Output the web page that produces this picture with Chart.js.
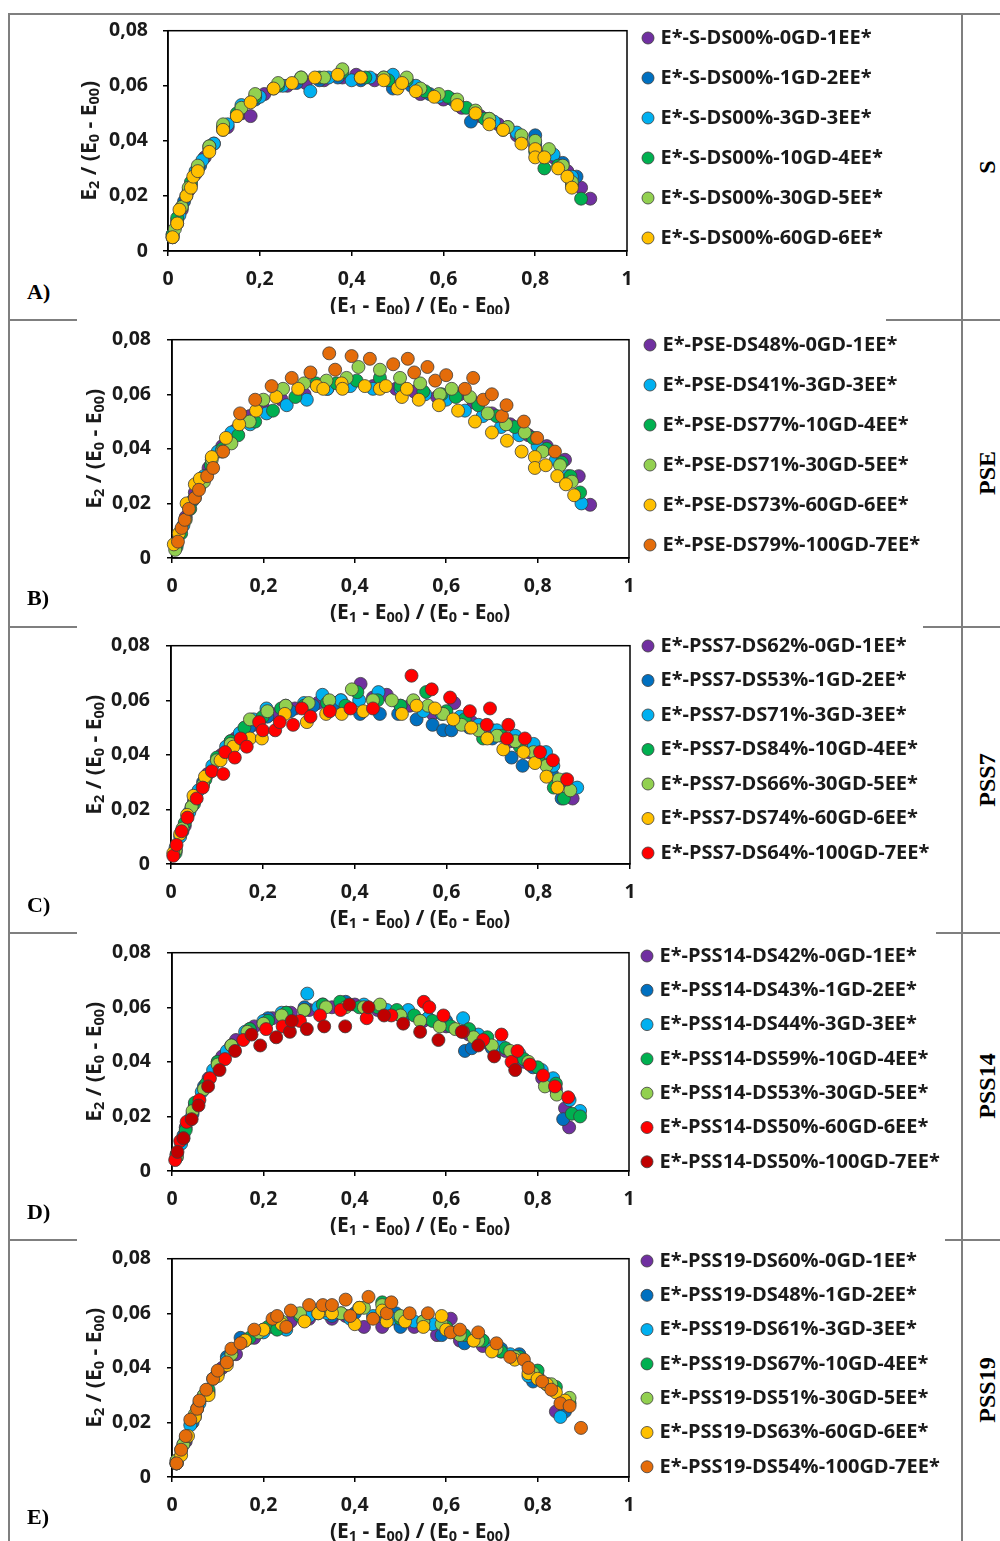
<!DOCTYPE html>
<html>
<head>
<meta charset="utf-8">
<script src="https://cdn.jsdelivr.net/npm/chart.js@4.4.1/dist/chart.umd.min.js"></script>
<style>
  body { margin: 0; background: #fff; }
  #page { position: relative; width: 1000px; height: 1541px; overflow: hidden; background: #fff; }
  .ln { position: absolute; background: #7f7f7f; }
  canvas { position: absolute; }
  .tag { position: absolute; font: bold 22px "Liberation Serif"; color: #000; transform: translateY(-50%); }
  .rowlbl { position: absolute; font: bold 24px "Liberation Serif"; color: #000; white-space: nowrap;
            transform: translate(-50%, -50%) rotate(-90deg); }
</style>
</head>
<body>
<div id="page"></div>
<script>
// colours (Excel palette)
const PURPLE = "#7030A0", DBLUE = "#0070C0", LBLUE = "#00B0F0", GREEN = "#00B050",
      LGREEN = "#92D050", GOLD = "#FFC000", ORANGE = "#E46C0A", RED = "#FF0000", DRED = "#C00000";

// axis ticks
const xTicks = [0, 0.2, 0.4, 0.6, 0.8, 1];
const yTicks = [0, 0.02, 0.04, 0.06, 0.08];

// ---------- A) S ----------
const labelsA = ["E*-S-DS00%-0GD-1EE*", "E*-S-DS00%-1GD-2EE*", "E*-S-DS00%-3GD-3EE*",
  "E*-S-DS00%-10GD-4EE*", "E*-S-DS00%-30GD-5EE*", "E*-S-DS00%-60GD-6EE*"];
const colorsA = [PURPLE, DBLUE, LBLUE, GREEN, LGREEN, GOLD];
const pointsA = [
  [[0.01,0.005],[0.02,0.01],[0.03,0.015],[0.045,0.022],[0.06,0.028],[0.08,0.034],[0.1,0.039],[0.13,0.045],[0.16,0.05],[0.18,0.049],[0.21,0.057],[0.26,0.06],[0.3,0.061],[0.34,0.062],[0.38,0.063],[0.41,0.064],[0.45,0.062],[0.5,0.06],[0.55,0.057],[0.6,0.055],[0.64,0.052],[0.68,0.049],[0.72,0.046],[0.76,0.042],[0.8,0.038],[0.84,0.034],[0.87,0.029],[0.9,0.023],[0.92,0.019]],
  [[0.01,0.006],[0.02,0.011],[0.035,0.018],[0.05,0.024],[0.07,0.031],[0.09,0.037],[0.12,0.044],[0.15,0.049],[0.19,0.055],[0.23,0.059],[0.28,0.061],[0.33,0.062],[0.37,0.063],[0.42,0.062],[0.47,0.063],[0.49,0.059],[0.53,0.06],[0.57,0.057],[0.62,0.055],[0.66,0.047],[0.7,0.048],[0.74,0.045],[0.8,0.042],[0.83,0.036],[0.86,0.032],[0.89,0.027]],
  [[0.01,0.005],[0.025,0.013],[0.04,0.02],[0.06,0.029],[0.075,0.033],[0.1,0.039],[0.13,0.046],[0.16,0.053],[0.2,0.056],[0.25,0.06],[0.31,0.058],[0.35,0.063],[0.4,0.062],[0.44,0.063],[0.49,0.064],[0.54,0.06],[0.59,0.056],[0.63,0.054],[0.67,0.05],[0.71,0.047],[0.76,0.043],[0.8,0.039],[0.84,0.035],[0.88,0.027]],
  [[0.01,0.006],[0.02,0.012],[0.03,0.016],[0.05,0.025],[0.065,0.03],[0.09,0.038],[0.12,0.045],[0.15,0.05],[0.19,0.056],[0.24,0.06],[0.29,0.063],[0.33,0.063],[0.38,0.065],[0.43,0.063],[0.48,0.062],[0.52,0.062],[0.56,0.058],[0.61,0.056],[0.65,0.052],[0.69,0.048],[0.73,0.044],[0.77,0.041],[0.8,0.036],[0.82,0.03],[0.85,0.031],[0.88,0.024],[0.9,0.019]],
  [[0.015,0.008],[0.03,0.016],[0.045,0.023],[0.065,0.031],[0.09,0.038],[0.12,0.046],[0.16,0.052],[0.19,0.057],[0.24,0.061],[0.29,0.063],[0.34,0.063],[0.38,0.066],[0.42,0.063],[0.47,0.063],[0.52,0.063],[0.55,0.059],[0.59,0.057],[0.63,0.055],[0.67,0.051],[0.7,0.048],[0.74,0.045],[0.77,0.042],[0.8,0.04],[0.83,0.037],[0.86,0.031],[0.88,0.025]],
  [[0.01,0.005],[0.02,0.01],[0.025,0.015],[0.04,0.02],[0.05,0.023],[0.055,0.027],[0.065,0.029],[0.09,0.036],[0.12,0.044],[0.15,0.049],[0.18,0.054],[0.23,0.059],[0.27,0.061],[0.32,0.063],[0.37,0.064],[0.42,0.063],[0.47,0.062],[0.5,0.059],[0.51,0.061],[0.54,0.058],[0.58,0.056],[0.63,0.053],[0.67,0.05],[0.7,0.046],[0.73,0.044],[0.77,0.039],[0.8,0.037],[0.8,0.034],[0.82,0.034],[0.85,0.03],[0.87,0.027],[0.88,0.023]]
];

// ---------- B) PSE ----------
const labelsB = ["E*-PSE-DS48%-0GD-1EE*", "E*-PSE-DS41%-3GD-3EE*", "E*-PSE-DS77%-10GD-4EE*",
  "E*-PSE-DS71%-30GD-5EE*", "E*-PSE-DS73%-60GD-6EE*", "E*-PSE-DS79%-100GD-7EE*"];
const colorsB = [PURPLE, LBLUE, GREEN, LGREEN, GOLD, ORANGE];
const pointsB = [
  [[0.01,0.005],[0.03,0.015],[0.05,0.024],[0.08,0.033],[0.11,0.041],[0.14,0.047],[0.17,0.052],[0.2,0.055],[0.24,0.058],[0.29,0.06],[0.34,0.062],[0.38,0.063],[0.44,0.063],[0.49,0.062],[0.53,0.061],[0.58,0.059],[0.63,0.06],[0.66,0.057],[0.7,0.053],[0.74,0.049],[0.78,0.045],[0.82,0.041],[0.86,0.036],[0.89,0.03],[0.915,0.0195]],
  [[0.01,0.005],[0.025,0.012],[0.045,0.021],[0.07,0.03],[0.1,0.039],[0.13,0.046],[0.171,0.049],[0.207,0.053],[0.251,0.056],[0.295,0.058],[0.34,0.062],[0.39,0.063],[0.44,0.062],[0.5,0.062],[0.554,0.06],[0.6,0.058],[0.641,0.054],[0.68,0.052],[0.72,0.048],[0.76,0.045],[0.8,0.041],[0.84,0.036],[0.866,0.03],[0.886,0.023],[0.896,0.02]],
  [[0.01,0.004],[0.02,0.009],[0.04,0.018],[0.06,0.026],[0.085,0.034],[0.11,0.04],[0.145,0.045],[0.182,0.05],[0.221,0.054],[0.27,0.059],[0.315,0.064],[0.36,0.064],[0.404,0.065],[0.455,0.066],[0.5,0.063],[0.55,0.061],[0.59,0.06],[0.621,0.059],[0.67,0.056],[0.71,0.052],[0.75,0.048],[0.79,0.044],[0.82,0.04],[0.853,0.035],[0.872,0.03],[0.893,0.024]],
  [[0.007,0.003],[0.03,0.014],[0.05,0.022],[0.07,0.028],[0.087,0.036],[0.109,0.039],[0.13,0.042],[0.17,0.05],[0.2,0.058],[0.243,0.062],[0.289,0.064],[0.338,0.065],[0.382,0.066],[0.408,0.07],[0.455,0.069],[0.499,0.066],[0.543,0.064],[0.586,0.06],[0.612,0.062],[0.652,0.059],[0.691,0.053],[0.731,0.049],[0.772,0.046],[0.811,0.039],[0.849,0.034],[0.875,0.028]],
  [[0.004,0.005],[0.015,0.009],[0.032,0.02],[0.05,0.027],[0.061,0.029],[0.087,0.037],[0.118,0.044],[0.147,0.049],[0.184,0.054],[0.228,0.059],[0.276,0.062],[0.317,0.063],[0.331,0.062],[0.371,0.064],[0.373,0.062],[0.422,0.063],[0.455,0.062],[0.468,0.063],[0.503,0.059],[0.514,0.062],[0.54,0.058],[0.584,0.056],[0.626,0.054],[0.663,0.05],[0.7,0.046],[0.733,0.043],[0.765,0.039],[0.794,0.037],[0.794,0.033],[0.818,0.034],[0.843,0.03],[0.862,0.027],[0.88,0.023]],
  [[0.013,0.006],[0.021,0.011],[0.028,0.014],[0.037,0.018],[0.05,0.022],[0.059,0.025],[0.077,0.03],[0.09,0.033],[0.112,0.039],[0.149,0.053],[0.182,0.058],[0.218,0.063],[0.262,0.066],[0.303,0.068],[0.344,0.075],[0.357,0.069],[0.393,0.074],[0.433,0.073],[0.484,0.071],[0.516,0.073],[0.53,0.068],[0.559,0.07],[0.576,0.065],[0.6,0.067],[0.641,0.062],[0.659,0.066],[0.681,0.058],[0.7,0.06],[0.722,0.052],[0.732,0.056],[0.77,0.05],[0.799,0.044],[0.838,0.039]]
];

// ---------- C) PSS7 ----------
const labelsC = ["E*-PSS7-DS62%-0GD-1EE*", "E*-PSS7-DS53%-1GD-2EE*", "E*-PSS7-DS71%-3GD-3EE*",
  "E*-PSS7-DS84%-10GD-4EE*", "E*-PSS7-DS66%-30GD-5EE*", "E*-PSS7-DS74%-60GD-6EE*", "E*-PSS7-DS64%-100GD-7EE*"];
const colorsC = [PURPLE, DBLUE, LBLUE, GREEN, LGREEN, GOLD, RED];
const pointsC = [
  [[0.01,0.005],[0.03,0.014],[0.05,0.023],[0.08,0.033],[0.11,0.04],[0.14,0.046],[0.18,0.051],[0.22,0.055],[0.27,0.057],[0.32,0.059],[0.37,0.06],[0.413,0.066],[0.44,0.061],[0.47,0.062],[0.52,0.058],[0.57,0.055],[0.617,0.059],[0.655,0.052],[0.7,0.049],[0.74,0.045],[0.78,0.041],[0.82,0.036],[0.85,0.03],[0.875,0.024]],
  [[0.01,0.005],[0.025,0.012],[0.045,0.021],[0.07,0.03],[0.1,0.038],[0.13,0.045],[0.17,0.05],[0.21,0.054],[0.26,0.056],[0.31,0.058],[0.36,0.059],[0.412,0.055],[0.455,0.055],[0.495,0.055],[0.535,0.053],[0.57,0.051],[0.593,0.049],[0.611,0.049],[0.65,0.05],[0.7,0.046],[0.742,0.039],[0.766,0.036],[0.8,0.04],[0.83,0.033],[0.851,0.024]],
  [[0.01,0.006],[0.02,0.01],[0.04,0.019],[0.06,0.027],[0.09,0.036],[0.12,0.043],[0.15,0.048],[0.18,0.053],[0.208,0.057],[0.25,0.058],[0.29,0.059],[0.33,0.062],[0.37,0.06],[0.41,0.06],[0.452,0.063],[0.5,0.058],[0.55,0.056],[0.59,0.055],[0.63,0.054],[0.67,0.051],[0.71,0.049],[0.75,0.047],[0.79,0.044],[0.817,0.041],[0.833,0.036],[0.86,0.031],[0.885,0.028]],
  [[0.01,0.004],[0.03,0.015],[0.05,0.022],[0.075,0.031],[0.1,0.039],[0.13,0.045],[0.16,0.05],[0.2,0.054],[0.24,0.057],[0.29,0.058],[0.34,0.059],[0.38,0.058],[0.406,0.063],[0.45,0.06],[0.5,0.058],[0.556,0.063],[0.6,0.056],[0.64,0.053],[0.68,0.046],[0.72,0.047],[0.76,0.043],[0.8,0.039],[0.834,0.028],[0.856,0.024]],
  [[0.01,0.005],[0.025,0.013],[0.045,0.021],[0.07,0.029],[0.1,0.038],[0.13,0.044],[0.172,0.053],[0.21,0.056],[0.25,0.058],[0.3,0.059],[0.345,0.06],[0.394,0.064],[0.44,0.06],[0.481,0.06],[0.528,0.06],[0.56,0.058],[0.593,0.055],[0.633,0.051],[0.67,0.049],[0.71,0.047],[0.75,0.045],[0.79,0.041],[0.818,0.036],[0.845,0.031],[0.87,0.027]],
  [[0.005,0.004],[0.02,0.011],[0.035,0.018],[0.049,0.025],[0.074,0.032],[0.108,0.038],[0.136,0.043],[0.172,0.046],[0.198,0.046],[0.248,0.055],[0.296,0.052],[0.338,0.055],[0.372,0.055],[0.419,0.056],[0.503,0.055],[0.535,0.058],[0.575,0.057],[0.615,0.053],[0.654,0.05],[0.689,0.046],[0.724,0.042],[0.768,0.041],[0.793,0.037],[0.818,0.032],[0.842,0.028]],
  [[0.005,0.003],[0.012,0.007],[0.023,0.012],[0.036,0.017],[0.056,0.024],[0.069,0.028],[0.089,0.034],[0.114,0.033],[0.118,0.041],[0.139,0.039],[0.152,0.046],[0.165,0.043],[0.192,0.052],[0.2,0.049],[0.227,0.049],[0.237,0.052],[0.266,0.051],[0.285,0.057],[0.304,0.054],[0.346,0.056],[0.391,0.057],[0.44,0.057],[0.524,0.069],[0.568,0.064],[0.608,0.061],[0.651,0.056],[0.688,0.051],[0.695,0.057],[0.732,0.046],[0.735,0.051],[0.771,0.046],[0.804,0.041],[0.832,0.038],[0.863,0.031]]
];

// ---------- D) PSS14 ----------
const labelsD = ["E*-PSS14-DS42%-0GD-1EE*", "E*-PSS14-DS43%-1GD-2EE*", "E*-PSS14-DS44%-3GD-3EE*",
  "E*-PSS14-DS59%-10GD-4EE*", "E*-PSS14-DS53%-30GD-5EE*", "E*-PSS14-DS50%-60GD-6EE*", "E*-PSS14-DS50%-100GD-7EE*"];
const colorsD = [PURPLE, DBLUE, LBLUE, GREEN, LGREEN, RED, DRED];
const pointsD = [
  [[0.01,0.005],[0.03,0.016],[0.05,0.024],[0.08,0.034],[0.11,0.042],[0.14,0.048],[0.18,0.053],[0.22,0.056],[0.26,0.058],[0.3,0.059],[0.35,0.06],[0.4,0.061],[0.45,0.059],[0.5,0.057],[0.55,0.055],[0.6,0.053],[0.65,0.05],[0.69,0.047],[0.73,0.044],[0.77,0.04],[0.81,0.034],[0.84,0.03],[0.86,0.023],[0.869,0.016]],
  [[0.01,0.006],[0.025,0.013],[0.045,0.021],[0.07,0.031],[0.1,0.04],[0.13,0.046],[0.17,0.052],[0.21,0.056],[0.25,0.058],[0.29,0.06],[0.33,0.061],[0.38,0.062],[0.42,0.06],[0.47,0.058],[0.51,0.057],[0.56,0.056],[0.6,0.055],[0.641,0.044],[0.656,0.045],[0.7,0.045],[0.75,0.042],[0.79,0.038],[0.83,0.032],[0.856,0.019]],
  [[0.01,0.005],[0.02,0.01],[0.04,0.019],[0.065,0.029],[0.09,0.037],[0.12,0.044],[0.16,0.051],[0.2,0.055],[0.24,0.058],[0.296,0.065],[0.32,0.06],[0.37,0.061],[0.42,0.061],[0.47,0.059],[0.517,0.059],[0.56,0.056],[0.6,0.054],[0.637,0.056],[0.67,0.05],[0.72,0.046],[0.76,0.043],[0.809,0.037],[0.834,0.034],[0.87,0.026],[0.893,0.022]],
  [[0.01,0.006],[0.03,0.015],[0.05,0.025],[0.075,0.032],[0.1,0.04],[0.13,0.046],[0.17,0.052],[0.21,0.055],[0.25,0.058],[0.29,0.059],[0.33,0.061],[0.368,0.062],[0.41,0.06],[0.45,0.06],[0.492,0.059],[0.53,0.057],[0.57,0.055],[0.61,0.053],[0.65,0.052],[0.69,0.049],[0.73,0.045],[0.77,0.041],[0.8,0.038],[0.84,0.032],[0.875,0.021],[0.893,0.02]],
  [[0.01,0.005],[0.025,0.012],[0.045,0.022],[0.07,0.03],[0.1,0.039],[0.13,0.046],[0.165,0.051],[0.2,0.054],[0.24,0.057],[0.289,0.059],[0.337,0.06],[0.38,0.06],[0.42,0.06],[0.455,0.061],[0.5,0.057],[0.543,0.055],[0.586,0.053],[0.62,0.052],[0.66,0.049],[0.7,0.046],[0.74,0.044],[0.78,0.04],[0.816,0.031],[0.842,0.028]],
  [[0.007,0.004],[0.018,0.011],[0.032,0.018],[0.06,0.026],[0.083,0.034],[0.116,0.041],[0.156,0.048],[0.206,0.052],[0.242,0.053],[0.28,0.055],[0.324,0.057],[0.369,0.059],[0.426,0.056],[0.48,0.057],[0.551,0.062],[0.563,0.06],[0.594,0.057],[0.637,0.051],[0.681,0.048],[0.721,0.05],[0.743,0.04],[0.756,0.044],[0.783,0.039],[0.812,0.035],[0.838,0.031],[0.867,0.027]],
  [[0.012,0.007],[0.025,0.012],[0.043,0.019],[0.058,0.024],[0.079,0.031],[0.104,0.037],[0.138,0.044],[0.174,0.05],[0.193,0.046],[0.228,0.049],[0.258,0.051],[0.262,0.055],[0.295,0.052],[0.333,0.053],[0.379,0.053],[0.388,0.061],[0.43,0.06],[0.464,0.057],[0.506,0.054],[0.543,0.051],[0.583,0.048],[0.634,0.051],[0.67,0.046],[0.705,0.042],[0.751,0.037]]
];

// ---------- E) PSS19 ----------
const labelsE = ["E*-PSS19-DS60%-0GD-1EE*", "E*-PSS19-DS48%-1GD-2EE*", "E*-PSS19-DS61%-3GD-3EE*",
  "E*-PSS19-DS67%-10GD-4EE*", "E*-PSS19-DS51%-30GD-5EE*", "E*-PSS19-DS63%-60GD-6EE*", "E*-PSS19-DS54%-100GD-7EE*"];
const colorsE = [PURPLE, DBLUE, LBLUE, GREEN, LGREEN, GOLD, ORANGE];
const pointsE = [
  [[0.01,0.005],[0.03,0.013],[0.05,0.022],[0.08,0.031],[0.11,0.04],[0.14,0.045],[0.18,0.051],[0.22,0.055],[0.26,0.057],[0.3,0.058],[0.35,0.058],[0.38,0.059],[0.42,0.055],[0.46,0.055],[0.5,0.056],[0.53,0.055],[0.58,0.052],[0.61,0.058],[0.63,0.05],[0.68,0.048],[0.72,0.046],[0.76,0.044],[0.8,0.037],[0.84,0.024],[0.86,0.027]],
  [[0.01,0.006],[0.025,0.012],[0.045,0.02],[0.07,0.03],[0.1,0.038],[0.12,0.044],[0.15,0.051],[0.2,0.054],[0.24,0.056],[0.29,0.058],[0.35,0.059],[0.4,0.06],[0.45,0.059],[0.49,0.06],[0.5,0.055],[0.55,0.057],[0.59,0.052],[0.64,0.049],[0.68,0.05],[0.72,0.047],[0.76,0.045],[0.79,0.035],[0.82,0.034],[0.86,0.024]],
  [[0.01,0.005],[0.02,0.01],[0.04,0.019],[0.06,0.027],[0.09,0.036],[0.12,0.043],[0.16,0.05],[0.2,0.053],[0.25,0.054],[0.3,0.059],[0.34,0.06],[0.39,0.058],[0.44,0.059],[0.48,0.058],[0.53,0.057],[0.57,0.056],[0.62,0.053],[0.66,0.05],[0.7,0.047],[0.74,0.045],[0.78,0.037],[0.82,0.034],[0.85,0.022]],
  [[0.01,0.005],[0.03,0.014],[0.055,0.025],[0.08,0.032],[0.1,0.038],[0.13,0.045],[0.17,0.051],[0.21,0.055],[0.23,0.054],[0.28,0.059],[0.32,0.06],[0.37,0.06],[0.41,0.062],[0.46,0.064],[0.5,0.058],[0.55,0.057],[0.6,0.055],[0.64,0.052],[0.68,0.05],[0.72,0.046],[0.76,0.044],[0.8,0.039],[0.84,0.033],[0.87,0.027]],
  [[0.01,0.006],[0.025,0.012],[0.05,0.023],[0.07,0.03],[0.1,0.038],[0.13,0.045],[0.16,0.05],[0.19,0.053],[0.24,0.057],[0.28,0.06],[0.33,0.061],[0.37,0.06],[0.42,0.062],[0.46,0.063],[0.5,0.059],[0.55,0.057],[0.59,0.056],[0.63,0.052],[0.67,0.05],[0.71,0.047],[0.75,0.044],[0.79,0.038],[0.83,0.034],[0.87,0.029]],
  [[0.01,0.005],[0.02,0.008],[0.035,0.015],[0.05,0.022],[0.08,0.03],[0.1,0.037],[0.12,0.041],[0.16,0.05],[0.2,0.054],[0.24,0.056],[0.29,0.057],[0.32,0.06],[0.35,0.06],[0.4,0.056],[0.41,0.062],[0.46,0.061],[0.47,0.057],[0.51,0.057],[0.55,0.055],[0.59,0.059],[0.6,0.054],[0.66,0.05],[0.7,0.046],[0.75,0.043],[0.78,0.038],[0.8,0.036],[0.82,0.034],[0.84,0.031],[0.86,0.028]],
  [[0.01,0.005],[0.02,0.01],[0.03,0.015],[0.04,0.021],[0.055,0.025],[0.06,0.028],[0.075,0.032],[0.09,0.036],[0.1,0.039],[0.12,0.042],[0.13,0.047],[0.15,0.049],[0.18,0.054],[0.22,0.058],[0.23,0.059],[0.25,0.055],[0.26,0.061],[0.3,0.063],[0.33,0.063],[0.35,0.063],[0.38,0.065],[0.39,0.059],[0.43,0.066],[0.44,0.058],[0.47,0.06],[0.48,0.064],[0.52,0.06],[0.56,0.06],[0.61,0.053],[0.63,0.054],[0.67,0.053],[0.71,0.049],[0.74,0.044],[0.77,0.043],[0.78,0.04],[0.81,0.035],[0.83,0.032],[0.85,0.027],[0.87,0.026],[0.895,0.018]]
];

// axis titles, [text, subscript?]
const xTitle = [["(E", 0], ["1", 1], [" - E", 0], ["00", 1], [") / (E", 0], ["0", 1], [" - E", 0], ["00", 1], [")", 0]];
const yTitle = [["E", 0], ["2", 1], [" / (E", 0], ["0", 1], [" - E", 0], ["00", 1], [")", 0]];

const FONT = "Open Sans";
const MAIN_FONT = "bold 21px 'Open Sans'";
const SUB_FONT = "bold 14.5px 'Open Sans'";

// page layout of each panel (page pixels)
const CANVAS_LEFT = 60, CANVAS_W = 895, CANVAS_H = 310;
const panels = [
  { tag: "A)", row: "S",     rowMid: 167,  tagY: 292,  plot: [168, 627, 24, 251],   legendY: 38,   step: 40,   markerX: 648, yTitleX: 90, labels: labelsA, colors: colorsA, points: pointsA },
  { tag: "B)", row: "PSE",   rowMid: 473,  tagY: 598,  plot: [172, 629, 332, 558],  legendY: 345,  step: 40,   markerX: 650, yTitleX: 95, labels: labelsB, colors: colorsB, points: pointsB },
  { tag: "C)", row: "PSS7",  rowMid: 780,  tagY: 905,  plot: [171, 630, 638, 864],  legendY: 646,  step: 34.5, markerX: 648, yTitleX: 95, labels: labelsC, colors: colorsC, points: pointsC },
  { tag: "D)", row: "PSS14", rowMid: 1086, tagY: 1212, plot: [172, 629, 945, 1171], legendY: 956,  step: 34.3, markerX: 647, yTitleX: 95, labels: labelsD, colors: colorsD, points: pointsD },
  { tag: "E)", row: "PSS19", rowMid: 1390, tagY: 1517, plot: [172, 629, 1251, 1477],legendY: 1261, step: 34.3, markerX: 647, yTitleX: 95, labels: labelsE, colors: colorsE, points: pointsE }
];

const page = document.getElementById("page");

// table lines
function line(x, y, w, h) {
  const d = document.createElement("div");
  d.className = "ln";
  Object.assign(d.style, { left: x + "px", top: y + "px", width: w + "px", height: h + "px" });
  page.appendChild(d);
}
line(8, 13, 992, 2);
line(8, 13, 2, 1528);
line(961, 13, 2, 1528);
[[319, 886], [626, 923], [932, 936], [1239, 945]].forEach(([y, xr]) => {
  line(8, y, 69, 2);
  line(xr, y, 1000 - xr, 2);
});

function drawRich(ctx, parts, cx, cy, rot) {
  ctx.save();
  ctx.translate(cx, cy);
  ctx.rotate(rot);
  ctx.fillStyle = "#1a1a1a";
  ctx.textBaseline = "middle";
  ctx.textAlign = "left";
  let w = 0;
  parts.forEach(([t, sub]) => { ctx.font = sub ? SUB_FONT : MAIN_FONT; w += ctx.measureText(t).width; });
  let x = -w / 2;
  parts.forEach(([t, sub]) => {
    ctx.font = sub ? SUB_FONT : MAIN_FONT;
    ctx.fillText(t, x, sub ? 5 : 0);
    x += ctx.measureText(t).width;
  });
  ctx.restore();
}

// black frame round the plot + axis titles with subscripts
const framePlugin = {
  id: "frame",
  beforeDatasetsDraw(chart) {
    const { ctx, chartArea: a } = chart;
    ctx.save();
    ctx.strokeStyle = "#000";
    ctx.lineWidth = 1.5;
    ctx.strokeRect(a.left, a.top, a.right - a.left, a.bottom - a.top);
    ctx.restore();
  },
  afterDraw(chart, args, opts) {
    const { ctx, chartArea: a } = chart;
    drawRich(ctx, xTitle, opts.xTitleX, a.bottom + 55, 0);
    drawRich(ctx, yTitle, opts.yTitleX, (a.top + a.bottom) / 2, -Math.PI / 2);
  }
};

// keep legend out of the layout, then put it where the figure has it
const legendPlace = {
  id: "legendPlace",
  beforeLayout(chart) {
    const lg = chart.legend;
    if (lg && !lg._fixed) {
      const fit = lg.fit;
      lg.fit = function () { fit.call(this); this.width = 0; };
      lg._fixed = true;
    }
  },
  afterLayout(chart, args, opts) {
    const lg = chart.legend;
    lg.left = opts.left; lg.width = 340; lg.right = lg.left + 340;
    lg.top = opts.top; lg.bottom = chart.height; lg.height = lg.bottom - lg.top;
  }
};

const fmt = (v) => (v === 0 ? "0" : Number.isInteger(v) ? String(v) : v.toFixed(v < 0.1 ? 2 : 1).replace(".", ","));

function makePanel(p) {
  const [L, R, T, B] = p.plot;
  const top = T - 20;
  const canvas = document.createElement("canvas");
  canvas.width = CANVAS_W; canvas.height = CANVAS_H;
  canvas.style.left = CANVAS_LEFT + "px"; canvas.style.top = top + "px";
  page.appendChild(canvas);

  const tag = document.createElement("div");
  tag.className = "tag"; tag.textContent = p.tag;
  tag.style.left = "27px"; tag.style.top = p.tagY + "px";
  page.appendChild(tag);

  const rl = document.createElement("div");
  rl.className = "rowlbl"; rl.textContent = p.row;
  rl.style.left = "987px"; rl.style.top = p.rowMid + "px";
  page.appendChild(rl);

  const YW = 75, XH = 45, fs = 19.5, lfs = 20, pad = p.step - lfs, boxW = 5;
  const n = p.labels.length;
  const datasets = p.labels.map((lab, i) => ({
    label: lab,
    data: p.points[i].map(([x, y]) => ({ x, y })),
    backgroundColor: p.colors[i],
    borderColor: "#3c3c3c",
    borderWidth: 0.8,
    pointRadius: 6.5,
    pointStyle: "circle",
    order: n - i,
    clip: false
  }));

  new Chart(canvas, {
    type: "scatter",
    data: { datasets },
    options: {
      responsive: false,
      animation: false,
      events: [],
      layout: {
        padding: {
          top: T - top,
          left: L - CANVAS_LEFT - YW,
          right: CANVAS_W - (R - CANVAS_LEFT),
          bottom: CANVAS_H - (T - top) - (B - T) - XH
        }
      },
      scales: {
        x: {
          type: "linear", min: 0, max: 1,
          afterFit: (s) => { s.height = XH; },
          afterBuildTicks: (s) => { s.ticks = xTicks.map((v) => ({ value: v })); },
          grid: { drawOnChartArea: false, drawTicks: true, tickLength: 5, color: "#000", lineWidth: 1.5 },
          border: { display: true, color: "#000", width: 1.5 },
          ticks: { padding: 12, color: "#1a1a1a", font: { family: FONT, size: fs, weight: "bold" }, maxRotation: 0, callback: fmt }
        },
        y: {
          type: "linear", min: 0, max: 0.08,
          afterFit: (s) => { s.width = YW; },
          afterBuildTicks: (s) => { s.ticks = yTicks.map((v) => ({ value: v })); },
          grid: { drawOnChartArea: false, drawTicks: true, tickLength: 5, color: "#000", lineWidth: 1.5 },
          border: { display: true, color: "#000", width: 1.5 },
          ticks: { padding: L === 168 ? 15 : 16, color: "#1a1a1a", font: { family: FONT, size: fs, weight: "bold" }, callback: fmt }
        }
      },
      plugins: {
        tooltip: { enabled: false },
        legend: {
          position: "right", align: "start",
          labels: {
            usePointStyle: true, pointStyle: "circle", boxWidth: boxW, boxHeight: 8.5,
            padding: pad, color: "#1a1a1a",
            font: { family: FONT, size: lfs, weight: "bold" },
            sort: (a, b) => a.datasetIndex - b.datasetIndex
          }
        },
        legendPlace: {
          left: p.markerX - CANVAS_LEFT - boxW / 2 - pad,
          top: p.legendY - top - pad - lfs / 2
        },
        frame: { xTitleX: 420 - CANVAS_LEFT, yTitleX: p.yTitleX - CANVAS_LEFT }
      }
    },
    plugins: [legendPlace, framePlugin]
  });
}

panels.forEach(makePanel);
</script>
</body>
</html>
